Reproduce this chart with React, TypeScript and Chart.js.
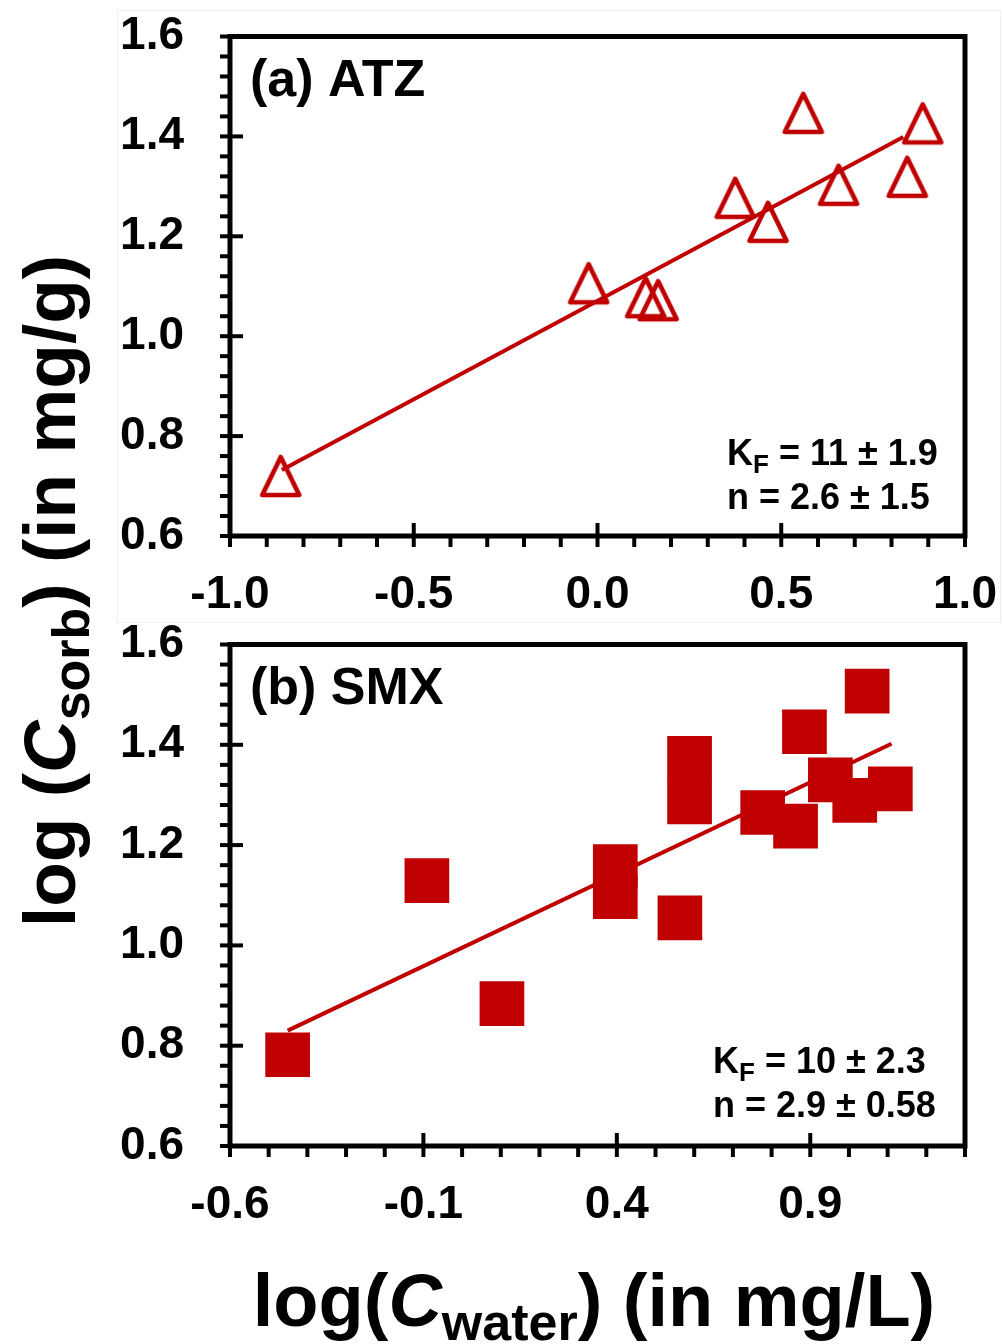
import React, { useEffect, useRef } from "react";
import { Chart, registerables } from "chart.js";

Chart.register(...registerables);

const RED = "#C00000";
const FAM = '"Liberation Sans", Arial, Helvetica, sans-serif';

// ---- Panel (a) ATZ ----
const atzX = [-0.862, -0.024, 0.131, 0.165, 0.375, 0.464, 0.56, 0.656, 0.843, 0.885];
const atzY = [0.72, 1.106, 1.078, 1.072, 1.277, 1.229, 1.447, 1.303, 1.319, 1.426];
const atzFitX = [-0.859, 0.832];
const atzFitY = [0.732, 1.399];
const atzXTicks = [-1.0, -0.5, 0.0, 0.5, 1.0];

// ---- Panel (b) SMX ----
const smxX = [-0.451, -0.091, 0.103, 0.396, 0.396, 0.563, 0.588, 0.588, 0.777, 0.862, 0.885, 0.952, 1.015, 1.107, 1.047];
const smxY = [0.782, 1.129, 0.884, 1.157, 1.097, 1.055, 1.373, 1.286, 1.265, 1.238, 1.426, 1.33, 1.289, 1.312, 1.507];
const smxFitX = [-0.451, 1.11];
const smxFitY = [0.83, 1.402];
const smxXTicks = [-0.6, -0.1, 0.4, 0.9];

const yTicks = [0.6, 0.8, 1.0, 1.2, 1.4, 1.6];

type Seg = { text: string; font: string; dy?: number };

function drawRich(ctx: CanvasRenderingContext2D, segs: Seg[], x: number, y: number, center: boolean) {
  let total = 0;
  const widths = segs.map((s) => {
    ctx.font = s.font;
    const w = ctx.measureText(s.text).width;
    total += w;
    return w;
  });
  let cx = center ? x - total / 2 : x;
  ctx.textAlign = "left";
  ctx.textBaseline = "alphabetic";
  segs.forEach((s, i) => {
    ctx.font = s.font;
    ctx.fillText(s.text, cx, y + (s.dy || 0));
    cx += widths[i];
  });
}

const B = (px: number) => `bold ${px}px ${FAM}`;
const BI = (px: number) => `italic bold ${px}px ${FAM}`;

const decoPlugin = {
  id: "panelDeco",
  afterDatasetsDraw(chart: any, _args: any, opts: any) {
    const { ctx, chartArea: a, scales } = chart;
    const xs = scales.x;
    const ys = scales.y;
    ctx.save();
    ctx.strokeStyle = "#000";
    ctx.lineWidth = 4;
    ctx.lineCap = "butt";
    const nY = Math.round((ys.max - ys.min) / opts.yMinor);
    for (let k = 0; k <= nY; k++) {
      const p = ys.getPixelForValue(ys.min + k * opts.yMinor);
      const major = k % opts.yMajorEvery === 0;
      ctx.beginPath();
      ctx.moveTo(a.left - 10, p);
      ctx.lineTo(major ? a.left + 13 : a.left, p);
      ctx.stroke();
    }
    const nX = Math.round((xs.max - xs.min) / opts.xMinor);
    for (let k = 0; k <= nX; k++) {
      const p = xs.getPixelForValue(xs.min + k * opts.xMinor);
      const major = k % opts.xMajorEvery === 0;
      ctx.beginPath();
      ctx.moveTo(p, a.bottom + 11);
      ctx.lineTo(p, major ? a.bottom - 13 : a.bottom);
      ctx.stroke();
    }
    ctx.lineWidth = 5;
    ctx.strokeRect(a.left, a.top, a.right - a.left, a.bottom - a.top);
    ctx.restore();
  },
  afterDraw(chart: any, _args: any, opts: any) {
    const { ctx, chartArea: a } = chart;
    ctx.save();
    ctx.fillStyle = "#000";
    drawRich(ctx, [{ text: opts.label, font: B(52) }], a.left + 20, a.top + 59, false);
    drawRich(
      ctx,
      [
        { text: "K", font: B(36) },
        { text: "F", font: B(26), dy: 8 },
        { text: opts.kf, font: B(36) },
      ],
      opts.annX,
      a.top + opts.annDy,
      false
    );
    drawRich(ctx, [{ text: opts.n, font: B(36) }], opts.annX, a.top + opts.annDy + 44, false);
    if (opts.axisTitles) {
      drawRich(
        ctx,
        [
          { text: "log(", font: B(74) },
          { text: "C", font: BI(74) },
          { text: "water", font: B(52), dy: 14 },
          { text: ") (in mg/L)", font: B(74) },
        ],
        594,
        1326,
        true
      );
      ctx.translate(75, 591);
      ctx.rotate(-Math.PI / 2);
      drawRich(
        ctx,
        [
          { text: "log (", font: B(73) },
          { text: "C", font: BI(73) },
          { text: "sorb", font: B(52), dy: 14 },
          { text: ") (in mg/g)", font: B(73) },
        ],
        0,
        0,
        true
      );
    }
    ctx.restore();
  },
};

function makeTriangle(): HTMLCanvasElement {
  const c = document.createElement("canvas");
  c.width = 46;
  c.height = 46;
  const g = c.getContext("2d")!;
  g.strokeStyle = RED;
  g.lineWidth = 4.7;
  g.lineJoin = "round";
  g.beginPath();
  g.moveTo(23, 4);
  g.lineTo(41.5, 42);
  g.lineTo(4.5, 42);
  g.closePath();
  g.stroke();
  return c;
}

type Panel = {
  xs: number[];
  ys: number[];
  fitX: number[];
  fitY: number[];
  xMin: number;
  xMax: number;
  xTicks: number[];
  top: number;
  bottom: number;
  marker: any;
  radius: number;
  filled: boolean;
  deco: any;
};

function zeroPad(s: any) {
  s.paddingTop = 0;
  s.paddingBottom = 0;
  s.paddingLeft = 0;
  s.paddingRight = 0;
}

function makeChart(canvas: HTMLCanvasElement, p: Panel) {
  const tickFont = { family: FAM, size: 46, weight: "bold" as const, lineHeight: 1.2 };
  return new Chart(canvas, {
    type: "scatter",
    data: {
      datasets: [
        {
          data: p.xs.map((x, i) => ({ x, y: p.ys[i] })),
          pointStyle: p.marker,
          pointRadius: p.radius,
          backgroundColor: p.filled ? RED : "rgba(0,0,0,0)",
          borderColor: RED,
          borderWidth: 0,
          order: 0,
        },
        {
          data: p.fitX.map((x, i) => ({ x, y: p.fitY[i] })),
          showLine: true,
          pointRadius: 0,
          borderColor: RED,
          borderWidth: 4,
          order: 1,
        } as any,
      ],
    },
    options: {
      responsive: false,
      animation: false,
      devicePixelRatio: 1,
      events: [],
      layout: { padding: { left: 0, right: 1002 - 965, top: p.top, bottom: 1344 - p.bottom - 86 } },
      plugins: {
        legend: { display: false },
        tooltip: { enabled: false },
        panelDeco: p.deco,
      } as any,
      scales: {
        x: {
          type: "linear",
          min: p.xMin,
          max: p.xMax,
          afterBuildTicks: (s: any) => {
            s.ticks = p.xTicks.map((v) => ({ value: v }));
          },
          afterFit: (s: any) => {
            s.height = 86;
            zeroPad(s);
          },
          grid: { display: false },
          border: { display: false },
          ticks: {
            font: tickFont,
            color: "#000",
            padding: 24,
            autoSkip: false,
            maxRotation: 0,
            callback: (v: any) => Number(v).toFixed(1),
          },
        },
        y: {
          type: "linear",
          min: 0.6,
          max: 1.6,
          afterBuildTicks: (s: any) => {
            s.ticks = yTicks.map((v) => ({ value: v }));
          },
          afterFit: (s: any) => {
            s.width = 230;
            zeroPad(s);
          },
          grid: { display: false },
          border: { display: false },
          ticks: {
            font: tickFont,
            color: "#000",
            padding: 38,
            autoSkip: false,
            callback: (v: any) => Number(v).toFixed(1),
          },
        },
      },
    },
    plugins: [decoPlugin],
  });
}

export default function App() {
  const topRef = useRef<HTMLCanvasElement>(null);
  const botRef = useRef<HTMLCanvasElement>(null);

  useEffect(() => {
    const tri = makeTriangle();
    const c1 = makeChart(topRef.current!, {
      xs: atzX,
      ys: atzY,
      fitX: atzFitX,
      fitY: atzFitY,
      xMin: -1.0,
      xMax: 1.0,
      xTicks: atzXTicks,
      top: 36.5,
      bottom: 536,
      marker: tri,
      radius: 21,
      filled: false,
      deco: {
        yMinor: 0.04,
        yMajorEvery: 5,
        xMinor: 0.1,
        xMajorEvery: 5,
        label: "(a) ATZ",
        kf: " = 11 \u00B1 1.9",
        n: "n = 2.6 \u00B1 1.5",
        annX: 727,
        annDy: 428.5,
        axisTitles: false,
      },
    });
    const c2 = makeChart(botRef.current!, {
      xs: smxX,
      ys: smxY,
      fitX: smxFitX,
      fitY: smxFitY,
      xMin: -0.6,
      xMax: 1.3,
      xTicks: smxXTicks,
      top: 644.5,
      bottom: 1146,
      marker: "rect",
      radius: 31.6,
      filled: true,
      deco: {
        yMinor: 0.04,
        yMajorEvery: 5,
        xMinor: 0.1,
        xMajorEvery: 5,
        label: "(b) SMX",
        kf: " = 10 \u00B1 2.3",
        n: "n = 2.9 \u00B1 0.58",
        annX: 713,
        annDy: 428.5,
        axisTitles: true,
      },
    });
    return () => {
      c1.destroy();
      c2.destroy();
    };
  }, []);

  return (
    <div
      style={{
        position: "absolute",
        left: 0,
        top: 0,
        width: 1002,
        height: 1344,
        background: "#fff",
        overflow: "hidden",
      }}
    >
      <div
        style={{
          position: "absolute",
          left: 117,
          top: 10,
          width: 882,
          height: 611,
          border: "1px solid #efefef",
        }}
      />
      <canvas ref={topRef} width={1002} height={1344} style={{ position: "absolute", left: 0, top: 0 }} />
      <canvas ref={botRef} width={1002} height={1344} style={{ position: "absolute", left: 0, top: 0 }} />
    </div>
  );
}
